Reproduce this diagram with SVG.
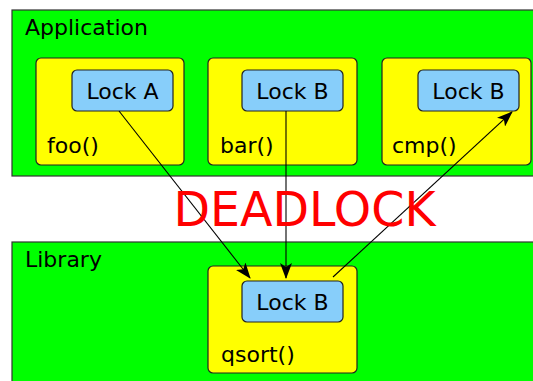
<svg xmlns="http://www.w3.org/2000/svg" width="533" height="381" viewBox="0 0 533 381">
<defs>
<style>
.area{fill:#00ff00;stroke:#333;stroke-width:1.2}
.fn{fill:#ffff00;stroke:#222;stroke-width:1.2}
.lock{fill:#87cefa;stroke:#222;stroke-width:1.2}
text{font-family:"DejaVu Sans",sans-serif;font-size:22px;fill:#000}
.c{text-anchor:middle}
.conn{stroke:#000;stroke-width:1.1;fill:none;marker-end:url(#ah)}
</style>
<marker id="ah" viewBox="0 0 16 12" refX="15" refY="6" markerWidth="16" markerHeight="12" markerUnits="userSpaceOnUse" orient="auto">
<path d="M0,0 L16,6 L0,12 L4,6 Z" fill="#000"/>
</marker>
</defs>
<g id="application">
<rect class="area" x="12" y="10" width="530" height="166"/>
<text x="25" y="35">Application</text>
</g>
<g id="library">
<rect class="area" x="12" y="242" width="530" height="150"/>
<text x="25" y="267">Library</text>
</g>
<g id="foo">
<rect class="fn" x="36" y="58" width="148" height="107" rx="5"/>
<text x="47" y="153">foo()</text>
</g>
<g id="lockA">
<rect class="lock" x="72" y="70" width="101" height="41" rx="5"/>
<text class="c" x="122.5" y="99">Lock A</text>
</g>
<g id="bar">
<rect class="fn" x="208" y="58" width="149" height="107" rx="5"/>
<text x="220" y="153">bar()</text>
</g>
<g id="lockB-bar">
<rect class="lock" x="242" y="70" width="101" height="41" rx="5"/>
<text class="c" x="292.5" y="99">Lock B</text>
</g>
<g id="cmp">
<rect class="fn" x="382" y="58" width="149" height="107" rx="5"/>
<text x="392" y="153">cmp()</text>
</g>
<g id="lockB-cmp">
<rect class="lock" x="418" y="70" width="101" height="41" rx="5"/>
<text class="c" x="468.5" y="99">Lock B</text>
</g>
<g id="qsort">
<rect class="fn" x="208" y="266" width="149" height="107" rx="5"/>
<text x="221" y="362">qsort()</text>
</g>
<g id="lockB-qsort">
<rect class="lock" x="242" y="281" width="101" height="41" rx="5"/>
<text class="c" x="292.5" y="310">Lock B</text>
</g>
<g id="connectors">
<line class="conn" x1="119" y1="111" x2="250" y2="278"/>
<line class="conn" x1="286" y1="111" x2="286" y2="278"/>
<line class="conn" x1="333" y1="277" x2="512" y2="112"/>
</g>
<g id="deadlock">
<text class="c" x="304.5" y="226" style="font-size:47.5px;fill:#ff0000">DEADLOCK</text>
</g>
</svg>
